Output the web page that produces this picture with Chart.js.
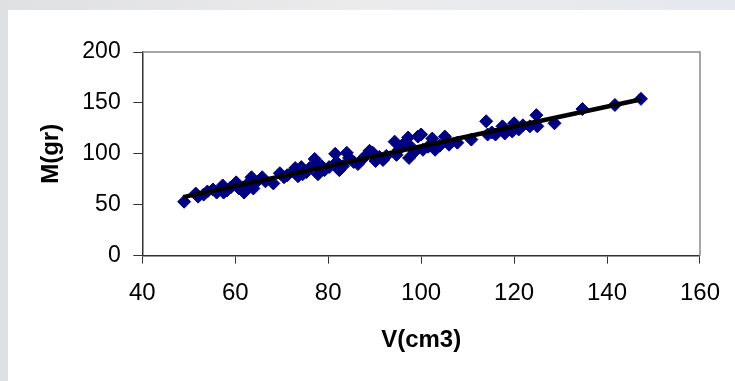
<!DOCTYPE html>
<html>
<head>
<meta charset="utf-8">
<script src="https://cdn.jsdelivr.net/npm/chart.js@4/dist/chart.umd.min.js"></script>
<style>
  html, body { margin: 0; padding: 0; background: #e6e7e9; }
  #wrap { position: absolute; left: 0; top: 0; width: 735px; height: 381px; }
</style>
</head>
<body>
<div id="wrap"><canvas id="c" width="735" height="381"></canvas></div>
<script>
// Measured points: volume (cm3) and mass (gr)
const volumes = [49, 51.5, 52, 53.2, 54, 55.2, 56, 57.3, 57.5, 58.2, 59, 60.2, 60.8, 61.7, 61.9, 62.5, 63.5, 63.9, 64.5, 65.8,
  66.5, 68.2, 69.6, 70.5, 71.2, 72.5, 72.9, 73.5, 74.2, 74.5, 75.3, 76, 77.1, 77.5, 77.8, 78.6, 79.2, 80.2, 81.5, 81.8,
  82.4, 83.2, 84, 84.5, 85.5, 86.4, 87.2, 88, 88.9, 89.6, 90.2, 91, 91.8, 92.5, 94.3, 94.7, 95.2, 95.8, 96.5, 97.2,
  97.4, 98, 98.6, 99.3, 100, 100.4, 101.5, 102.4, 103, 104, 105.1, 106, 107.8, 110.8, 114, 114.3, 115.2, 116, 117.5, 118,
  119.6, 120, 121, 121.9, 123.4, 124.8, 125, 128.7, 134.7, 141.7, 147.3];
const masses = [53, 61, 58, 60, 63, 65, 62, 69, 62, 64, 67, 72, 66, 67, 62, 70, 77, 66, 72, 77,
  73, 71, 81, 77, 79, 83, 86, 78, 87, 80, 82, 86, 95, 90, 80, 88, 84, 87, 100, 92,
  84, 88, 101, 96, 92, 90, 94, 98, 103, 101, 93, 97, 94, 98, 112, 99, 104, 108, 111, 116,
  96, 106, 102, 117, 119, 104, 107, 115, 104, 108, 117, 109, 111, 114, 132, 119, 121, 119, 127, 120,
  122, 130, 124, 128, 127, 138, 127, 130, 144, 148, 154];
// Linear trend line endpoints
const trendV = [48.8, 147.2];
const trendM = [57.5, 153.3];
// Axis ranges / ticks
const xTicks = [40, 60, 80, 100, 120, 140, 160];
const yTicks = [0, 50, 100, 150, 200];
const xTitle = 'V(cm3)';
const yTitle = 'M(gr)';

const points = volumes.map((v, i) => ({ x: v, y: masses[i] }));
const trend = trendV.map((v, i) => ({ x: v, y: trendM[i] }));

const bgPlugin = {
  id: 'bg',
  beforeDraw(chart) {
    const ctx = chart.ctx;
    ctx.save();
    const g = ctx.createLinearGradient(0, 0, 735, 0);
    g.addColorStop(0, '#dfe0e2');
    g.addColorStop(0.5, '#ebebec');
    g.addColorStop(1, '#e5e8ef');
    ctx.fillStyle = g;
    ctx.fillRect(0, 0, 735, 381);
    ctx.fillStyle = '#ffffff';
    ctx.fillRect(8, 10, 727, 371);
    ctx.restore();
  },
  afterDatasetsDraw(chart) {
    const { ctx, chartArea: a } = chart;
    ctx.save();
    ctx.strokeStyle = '#8a8a8a';
    ctx.lineWidth = 1.5;
    ctx.beginPath();
    ctx.moveTo(a.left, a.top);
    ctx.lineTo(a.right, a.top);
    ctx.lineTo(a.right, a.bottom);
    ctx.stroke();
    ctx.restore();
  }
};

const font = "'Liberation Sans', Arial, sans-serif";

new Chart(document.getElementById('c'), {
  type: 'scatter',
  data: {
    datasets: [
      {
        type: 'line',
        data: trend,
        borderColor: '#000000',
        borderWidth: 4.5,
        pointRadius: 0,
        fill: false,
        order: 0
      },
      {
        data: points,
        pointStyle: 'rectRot',
        pointRadius: 6.5,
        backgroundColor: '#000080',
        borderColor: '#000080',
        borderWidth: 1,
        order: 1
      }
    ]
  },
  options: {
    responsive: false,
    animation: false,
    events: [],
    layout: { padding: { left: 0, top: 52, right: 33, bottom: 0 } },
    plugins: { legend: { display: false }, tooltip: { enabled: false } },
    scales: {
      x: {
        type: 'linear',
        min: 40, max: 160,
        afterBuildTicks: s => { s.ticks = xTicks.map(v => ({ value: v })); },
        afterFit: s => { s.height = 125.3; },
        grid: { drawOnChartArea: false, drawTicks: true, tickLength: 8, color: '#333333', lineWidth: 1 },
        border: { color: '#333333', width: 1.5 },
        ticks: { color: '#000', padding: 15, font: { family: font, size: 24 }, maxRotation: 0 },
        title: { display: true, text: xTitle, color: '#000', font: { family: font, size: 24, weight: 'bold' }, padding: { top: 0, bottom: 26 } }
      },
      y: {
        type: 'linear',
        min: 0, max: 200,
        afterBuildTicks: s => { s.ticks = yTicks.map(v => ({ value: v })); },
        afterFit: s => { s.width = 142.3; },
        grid: { drawOnChartArea: false, drawTicks: true, tickLength: 9, color: '#333333', lineWidth: 1 },
        border: { color: '#333333', width: 1.5 },
        ticks: { color: '#000', padding: 12.6, font: { family: font, size: 23 } },
        title: { display: true, text: yTitle, color: '#000', font: { family: font, size: 24, weight: 'bold' }, padding: { top: 37, bottom: 0 } }
      }
    }
  },
  plugins: [bgPlugin]
});
</script>
</body>
</html>
